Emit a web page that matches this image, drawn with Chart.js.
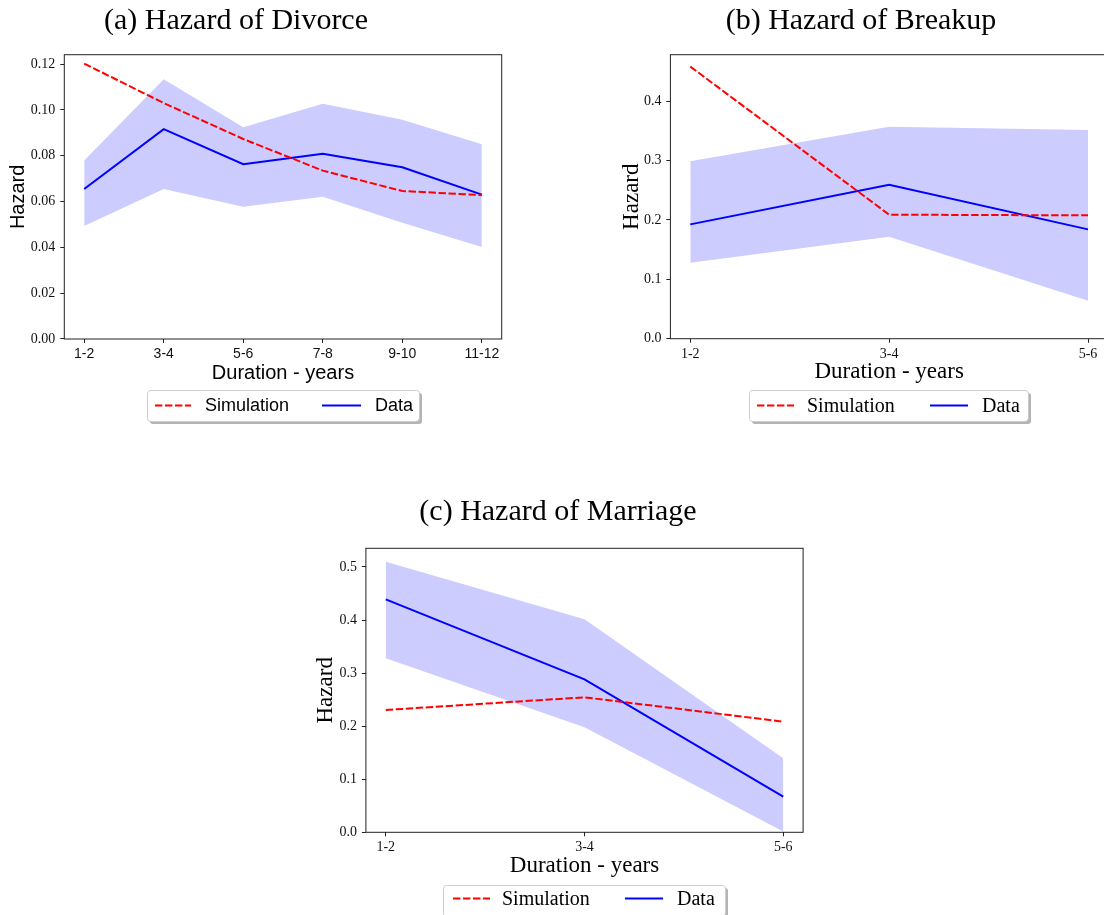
<!DOCTYPE html>
<html><head><meta charset="utf-8">
<script src="https://cdn.jsdelivr.net/npm/chart.js@4.4.1/dist/chart.umd.min.js"></script>
<style>
html,body{margin:0;padding:0;background:#fff;overflow:hidden;width:1104px;height:915px;position:relative;}
canvas{position:absolute;left:0;top:0;}
</style></head><body>
<canvas id="ca" width="1120" height="915" style="width:1120px;height:915px"></canvas>
<canvas id="cb" width="1120" height="915" style="width:1120px;height:915px"></canvas>
<canvas id="cc" width="1120" height="915" style="width:1120px;height:915px"></canvas>
<script>
// ---------- data ----------
const divorceCategories = ['1-2','3-4','5-6','7-8','9-10','11-12'];
const divorceSimulation = [0.1202,0.1030,0.0873,0.0735,0.0646,0.0628];
const divorceData       = [0.0655,0.0916,0.0763,0.0809,0.0750,0.0630];
const divorceLower      = [0.0493,0.0655,0.0577,0.0621,0.0507,0.0402];
const divorceUpper      = [0.0779,0.1134,0.0924,0.1027,0.0957,0.0850];
const divorceYTicks     = [0,0.02,0.04,0.06,0.08,0.10,0.12];

const breakupCategories = ['1-2','3-4','5-6'];
const breakupSimulation = [0.458,0.2087,0.2076];
const breakupData       = [0.1924,0.2592,0.184];
const breakupLower      = [0.1279,0.1717,0.064];
const breakupUpper      = [0.2985,0.3568,0.3512];
const breakupYTicks     = [0,0.1,0.2,0.3,0.4];

const marriageCategories = ['1-2','3-4','5-6'];
const marriageSimulation = [0.2305,0.2544,0.2085];
const marriageData       = [0.439,0.2883,0.0672];
const marriageLower      = [0.328,0.1979,0.0013];
const marriageUpper      = [0.510,0.4014,0.1394];
const marriageYTicks     = [0,0.1,0.2,0.3,0.4,0.5];

// ---------- style ----------
const SERIF = '"Liberation Serif", "Times New Roman", serif';
const SANS = '"Liberation Sans", Arial, sans-serif';
const DASH = [7.4, 2.6];
const CW = 1120, CH = 915;

function rr(ctx, x, y, w, h, r) {
  ctx.beginPath();
  ctx.moveTo(x + r, y);
  ctx.lineTo(x + w - r, y); ctx.arcTo(x + w, y, x + w, y + r, r);
  ctx.lineTo(x + w, y + h - r); ctx.arcTo(x + w, y + h, x + w - r, y + h, r);
  ctx.lineTo(x + r, y + h); ctx.arcTo(x, y + h, x, y + h - r, r);
  ctx.lineTo(x, y + r); ctx.arcTo(x, y, x + r, y, r);
  ctx.closePath();
}

const decor = {
  id: 'decor',
  afterDraw(chart, args, o) {
    const ctx = chart.ctx, a = chart.chartArea;
    ctx.save();
    // frame
    ctx.strokeStyle = '#222'; ctx.lineWidth = 1; ctx.setLineDash([]);
    ctx.strokeRect(a.left, a.top, a.right - a.left, a.bottom - a.top);
    // title
    ctx.fillStyle = '#000';
    ctx.font = '30px ' + SERIF;
    ctx.textAlign = 'center'; ctx.textBaseline = 'alphabetic';
    ctx.fillText(o.title, o.titleX, o.titleY);
    // legend
    const L = o.legend;
    const [x1, y1, x2, y2] = L.box;
    ctx.fillStyle = '#b4b4b4';
    rr(ctx, x1 + 3, y1 + 3, x2 - x1, y2 - y1, 3); ctx.fill();
    ctx.fillStyle = '#ffffff';
    rr(ctx, x1, y1, x2 - x1, y2 - y1, 3); ctx.fill();
    ctx.strokeStyle = '#cccccc'; ctx.lineWidth = 1;
    rr(ctx, x1 + 0.5, y1 + 0.5, x2 - x1, y2 - y1, 3); ctx.stroke();
    ctx.lineWidth = 2;
    ctx.strokeStyle = '#ff0000'; ctx.setLineDash(DASH);
    ctx.beginPath(); ctx.moveTo(L.sim[0], L.y); ctx.lineTo(L.sim[1], L.y); ctx.stroke();
    ctx.setLineDash([]);
    ctx.strokeStyle = '#0000ff';
    ctx.beginPath(); ctx.moveTo(L.dat[0], L.y); ctx.lineTo(L.dat[1], L.y); ctx.stroke();
    ctx.fillStyle = '#000';
    ctx.font = L.font; ctx.textAlign = 'left'; ctx.textBaseline = 'middle';
    ctx.fillText('Simulation', L.simText, L.y + 1);
    ctx.fillText('Data', L.datText, L.y + 1);
    ctx.restore();
  }
};

function pts(arr) { return arr.map((v, i) => ({ x: i, y: v })); }

function makeChart(id, c) {
  const yW = c.plotL - c.yTitleX + c.yTitleSize * 0.6;
  const xH = c.xTitleY - c.plotB + c.xTitleSize * 0.6;
  return new Chart(document.getElementById(id), {
    type: 'line',
    data: {
      datasets: [
        { label: 'Simulation', data: pts(c.sim), borderColor: '#ff0000', borderDash: DASH, borderWidth: 2, pointRadius: 0, fill: false, tension: 0 },
        { label: 'Data', data: pts(c.dat), borderColor: '#0000ff', borderWidth: 2, pointRadius: 0, fill: false, tension: 0 },
        { label: 'lower', data: pts(c.low), borderColor: 'rgba(0,0,0,0)', borderWidth: 0, pointRadius: 0, fill: false },
        { label: 'upper', data: pts(c.high), borderColor: 'rgba(0,0,0,0)', borderWidth: 0, pointRadius: 0, fill: '-1', backgroundColor: '#ccccff' }
      ]
    },
    options: {
      responsive: false, animation: false, devicePixelRatio: 1,
      layout: { padding: { left: c.plotL - yW, top: c.plotT, right: CW - c.plotR, bottom: CH - c.plotB - xH } },
      plugins: {
        legend: { display: false }, tooltip: { enabled: false },
        decor: { title: c.title, titleX: c.titleX, titleY: c.titleY, legend: c.legend }
      },
      scales: {
        x: {
          type: 'linear', min: c.xMin, max: c.xMax,
          afterFit(s) { s.height = xH; },
          afterBuildTicks(s) { s.ticks = c.cats.map((t, i) => ({ value: i })); },
          ticks: { callback: (v) => c.cats[v], font: { family: c.xTickFont, size: 14 }, color: '#111', padding: 3, maxRotation: 0, autoSkip: false },
          grid: { drawOnChartArea: false, drawTicks: true, tickLength: 4, color: '#222' },
          border: { display: false },
          title: { display: true, text: 'Duration - years', font: { family: c.titleFont, size: c.xTitleSize }, color: '#000', padding: 0 }
        },
        y: {
          type: 'linear', min: 0, max: c.yMax,
          afterFit(s) { s.width = yW; },
          afterBuildTicks(s) { s.ticks = c.yTicks.map(v => ({ value: v })); },
          ticks: { callback: (v) => v.toFixed(c.dec), font: { family: SERIF, size: 14 }, color: '#111', padding: 5 },
          grid: { drawOnChartArea: false, drawTicks: true, tickLength: 4, color: '#222' },
          border: { display: false },
          title: { display: true, text: 'Hazard', font: { family: c.titleFont, size: c.yTitleSize }, color: '#000', padding: 0 }
        }
      }
    },
    plugins: [decor]
  });
}

makeChart('ca', {
  cats: divorceCategories, sim: divorceSimulation, dat: divorceData, low: divorceLower, high: divorceUpper,
  yTicks: divorceYTicks, yMax: 0.1241, dec: 2, xMin: -0.25, xMax: 5.25,
  plotL: 64.3, plotR: 501.7, plotT: 54.7, plotB: 339,
  yTitleX: 18, yTitleSize: 20, xTitleY: 373, xTitleSize: 20,
  titleFont: SANS, xTickFont: SANS,
  title: '(a) Hazard of Divorce', titleX: 236, titleY: 28.5,
  legend: { box: [147, 390, 419, 421], sim: [155, 191], simText: 205, dat: [322, 361], datText: 375, y: 405.5, font: '18px ' + SANS }
});
makeChart('cb', {
  cats: breakupCategories, sim: breakupSimulation, dat: breakupData, low: breakupLower, high: breakupUpper,
  yTicks: breakupYTicks, yMax: 0.478, dec: 1, xMin: -0.1, xMax: 2.1,
  plotL: 670.4, plotR: 1107.9, plotT: 54.7, plotB: 338.7,
  yTitleX: 631.5, yTitleSize: 23, xTitleY: 372.2, xTitleSize: 23,
  titleFont: SERIF, xTickFont: SERIF,
  title: '(b) Hazard of Breakup', titleX: 861, titleY: 28.5,
  legend: { box: [749, 390, 1028, 421], sim: [757, 794], simText: 807, dat: [930, 968], datText: 982, y: 405.5, font: '20px ' + SERIF }
});
makeChart('cc', {
  cats: marriageCategories, sim: marriageSimulation, dat: marriageData, low: marriageLower, high: marriageUpper,
  yTicks: marriageYTicks, yMax: 0.5352, dec: 1, xMin: -0.1, xMax: 2.1,
  plotL: 365.9, plotR: 803.1, plotT: 548.3, plotB: 832.3,
  yTitleX: 325.5, yTitleSize: 23, xTitleY: 865.5, xTitleSize: 23,
  titleFont: SERIF, xTickFont: SERIF,
  title: '(c) Hazard of Marriage', titleX: 558, titleY: 519.5,
  legend: { box: [443, 885, 725, 916], sim: [453, 490], simText: 502, dat: [625, 663], datText: 677, y: 898.5, font: '20px ' + SERIF }
});
</script>
</body></html>
